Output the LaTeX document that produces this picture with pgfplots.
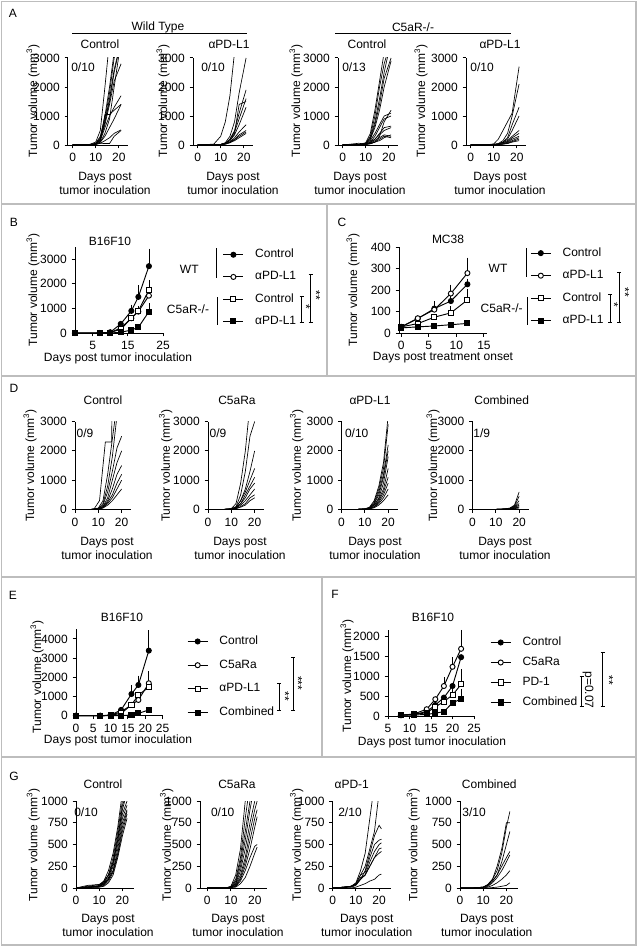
\documentclass[border=0pt]{standalone}
\usepackage{fontspec}
\setmainfont{Liberation Sans}
\usepackage{pgfplots}
\usepackage{pgfplotstable}
\pgfplotsset{compat=1.18}
\newcommand\fsz{\fontsize{9}{10.5}\selectfont}
\newcommand\TV{Tumor volume (mm\textsuperscript{3})}
\definecolor{framec}{gray}{0.74}
\pgfplotscreateplotcyclelist{blk}{black,solid,mark=none\\}

\pgfplotsset{
 P/.style 2 args={at={({#1*0.75pt},{-#2*0.75pt})}},
 base/.style={scale only axis, anchor=south west, axis lines=left,
   axis line style={-,line width=0.75pt}, tick align=outside, major tick length=2.6pt,
   tick style={line width=0.75pt,black}, ticklabel style={font=\fsz},
   /pgf/number format/assume math mode=true, /pgf/number format/1000 sep={},
   scaled ticks=false, minor tick num=0},
 spag/.style={base, ymin=0, cycle list name=blk, every axis plot post/.append style={black,solid,mark=none,line width=0.5pt}},
 spA/.style={spag, xmin=-2, xmax=24, ymax=3000, width=45pt, height=65.25pt, xtick={0,10,20}, ytick={0,1000,2000,3000}},
 spD/.style={spag, xmin=0, xmax=24, ymax=3000, width=42pt, height=66pt, xtick={0,10,20}, ytick={0,1000,2000,3000}},
 spG/.style={spag, xmin=0, xmax=25, ymax=1000, width=43.5pt, height=65.25pt, xtick={0,10,20}, ytick={0,250,500,750,1000}},
 mean/.style={base, clip=false, ymin=0,
   every axis plot/.append style={line width=0.7pt, black, mark size=1.9pt,
     error bars/y dir=plus, error bars/y explicit,
     error bars/error bar style={line width=0.6pt,black},
     error bars/error mark options={black,line width=0.6pt,mark size=1.9pt}},
   legend cell align=left,
   legend image code/.code={\draw[mark repeat=2,mark phase=2] plot coordinates {(0pt,0pt)(7.5pt,0pt)(15pt,0pt)}; \path (23.5pt,0pt);},
   legend style={draw=none, fill=none, anchor=north west, font=\fsz, inner sep=0pt,
     nodes={inner sep=0pt, text height=6.5pt, text depth=2pt}}},
 fc/.style={mark=*, mark options={fill=black}},
 oc/.style={mark=*, mark options={fill=white}},
 os/.style={mark=square*, mark options={fill=white}},
 fs/.style={mark=square*, mark options={fill=black}},
}
\newcommand\spagplot[2]{\pgfplotsinvokeforeach{#2}{\addplot table[x=colnames,y=##1]{#1};}}

% ---------- spaghetti data (rows = individual mice) ----------
\pgfplotstableread[header=has colnames]{
d 0 7 10 12 14 16 18 21
a 0 10 100 500 2000 3600 3600 3600
b 0 10 60 300 1000 2000 3200 3600
c 0 10 50 250 900 1800 3000 3600
d 0 5 40 200 800 1600 2600 3600
e 0 5 40 200 700 1400 2200 2800
f 0 5 30 150 600 1000 1300 1700
g 0 5 30 150 1050 1050 1200 1400
h 0 5 20 100 300 600 900 1400
i 0 5 20 60 150 250 400 520
j 0 5 20 60 50 50 300 500
k 0 5 30 100 400 900 2000 3600
l 0 5 30 200 800 1500 2500 3600
}\rAa
\pgfplotstableread[header=has colnames]{
d 0 7 10 12 14 16 18 21
a 0 30 300 800 1700 3200 3600 3600
b 0 5 20 80 300 800 1800 3000
c 0 5 20 60 200 500 1100 1900
d 0 5 20 60 200 450 900 1600
e 0 5 20 50 150 400 1400 1500
f 0 5 20 50 150 350 700 1300
g 0 5 20 40 100 250 450 700
h 0 5 15 40 100 200 350 500
i 0 5 15 30 80 180 300 450
j 0 5 10 30 80 150 250 400
}\rAb
\pgfplotstableread[header=has colnames]{
d 0 7 10 12 14 16 18 21
a 0 10 80 400 1200 2200 3200 3600
b 0 10 50 300 1000 2000 2800 3600
c 0 10 50 250 800 1600 2500 3600
d 0 10 40 200 700 1400 2300 3000
e 0 10 40 200 600 1200 2000 2900
f 0 10 30 150 400 700 1000 1100
g 0 10 30 100 300 600 900 1000
h 0 10 30 100 200 400 600 650
i 0 10 20 80 200 350 500 600
j 0 10 20 60 150 250 350 300
k 0 60 30 50 100 200 300 250
l 0 10 20 50 100 150 250 350
m 0 10 20 40 100 300 800 1200
}\rAc
\pgfplotstableread[header=has colnames]{
d 0 7 10 12 14 16 18 21
a 0 5 40 200 500 800 1100 2700
b 0 5 20 50 150 400 1000 2100
c 0 5 20 40 100 250 700 1300
d 0 5 20 40 100 200 500 1000
e 0 5 15 30 80 150 300 500
f 0 5 15 30 80 120 250 400
g 0 5 10 20 50 100 200 300
h 0 5 10 20 40 80 150 250
i 0 5 10 20 30 60 120 200
j 0 5 10 15 30 50 100 150
}\rAd
\pgfplotstableread[header=has colnames]{
d 0 7 10 12 14 16 18 20
b 0 5 50 300 1200 2400 3600 3600
c 0 5 30 200 800 1800 3200 3600
d 0 5 30 150 600 1300 2100 2500
e 0 5 20 100 400 1000 1600 2000
f 0 5 20 100 300 700 1200 1500
g 0 5 20 80 250 500 900 1200
h 0 5 10 60 200 400 700 1000
i 0 5 10 50 150 300 500 700
}\rDa
\pgfplotstableread[header=has colnames]{
d 0 7 10 12 14 16 18 20
a 0 5 30 200 900 2000 3600 3600
b 0 5 20 100 500 1300 2500 3000
c 0 5 20 80 300 700 1300 2000
d 0 5 20 80 300 600 1000 1400
e 0 5 10 60 200 500 800 1100
f 0 5 10 50 200 400 700 900
g 0 5 10 40 150 300 500 700
h 0 5 10 30 100 200 400 500
i 0 5 10 30 80 150 300 400
}\rDb
\pgfplotstableread[header=has colnames]{
d 0 7 10 12 14 16 18 20
a 0 5 20 80 300 800 1600 3200
b 0 5 20 60 250 700 1400 2900
c 0 5 20 60 200 600 1200 2200
d 0 5 15 50 200 500 1100 2000
e 0 5 15 50 150 400 900 1800
f 0 5 15 40 150 350 700 1400
g 0 5 10 40 100 300 600 1100
h 0 5 10 30 100 250 500 900
i 0 5 10 30 80 200 400 700
j 0 5 10 20 60 150 300 500
}\rDc
\pgfplotstableread[header=has colnames]{
d 0 7 10 12 14 16 18 20
a 0 0 5 10 20 50 150 600
b 0 0 5 10 20 40 120 450
c 0 0 5 10 20 40 100 300
d 0 0 5 10 20 30 80 200
e 0 0 5 10 15 30 60 150
f 0 0 5 10 15 20 50 100
g 0 0 5 5 10 20 40 80
h 0 0 0 5 10 15 30 50
i 0 0 0 0 0 0 0 0
}\rDd
\pgfplotstableread[header=has colnames]{
d 0 5 10 12 14 16 18 20 22
a 0 10 20 80 200 400 700 1100 1200
b 0 10 20 60 150 350 650 1000 1200
c 0 10 30 60 150 300 600 900 1100
d 0 10 20 50 120 280 550 850 1000
e 0 10 20 40 100 250 500 800 950
f 0 10 20 40 100 200 450 750 900
g 0 20 40 60 100 200 400 700 880
h 0 5 10 30 80 180 380 650 850
i 0 5 10 20 60 150 350 600 800
j 0 30 40 80 150 300 550 950 1100
}\rGa
\pgfplotstableread[header=has colnames]{
d 0 8 10 12 14 16 18 20 21
a 0 0 20 150 450 1000 1300 1500 1500
b 0 0 20 100 350 800 1200 1500 1500
c 0 0 10 80 300 650 1000 1300 1400
d 0 0 10 60 250 550 900 1200 1300
e 0 0 10 50 200 450 750 1000 1100
f 0 0 10 40 150 350 650 900 1000
g 0 0 10 30 120 300 550 800 900
h 0 0 5 20 100 250 450 700 820
i 0 0 5 20 80 200 350 480 500
j 0 0 5 10 50 120 250 400 470
}\rGb
\pgfplotstableread[header=has colnames]{
d 0 5 8 10 12 14 16 18 20 21
a 0 10 20 60 200 400 800 1200 1200 1200
b 0 10 20 50 150 250 450 650 1100 1200
c 0 10 20 40 100 200 400 600 720 680
d 0 10 20 50 150 180 350 500 550 560
e 0 10 20 40 120 150 300 420 500 520
f 0 10 20 40 100 150 250 350 450 460
g 0 5 10 30 100 150 250 350 400 420
h 0 0 0 10 30 50 80 100 150 160
i 0 0 0 0 0 0 0 0 0 0
}\rGc
\pgfplotstableread[header=has colnames]{
d 0 5 10 12 14 16 18 20 21.5
a 0 0 10 40 100 200 400 700 880
b 0 0 10 40 100 250 450 750 750
c 0 0 10 30 80 150 300 500 650
d 0 0 10 30 80 150 250 350 420
e 0 0 5 20 60 120 200 300 380
f 0 0 0 10 30 60 100 150 200
g 0 0 0 0 5 10 20 30 60
h 0 0 0 0 0 0 0 0 0
}\rGd
\pgfplotstabletranspose[colnames from=d]{\tAa}{\rAa}
\pgfplotstabletranspose[colnames from=d]{\tAb}{\rAb}
\pgfplotstabletranspose[colnames from=d]{\tAc}{\rAc}
\pgfplotstabletranspose[colnames from=d]{\tAd}{\rAd}
\pgfplotstabletranspose[colnames from=d]{\tDa}{\rDa}
\pgfplotstabletranspose[colnames from=d]{\tDb}{\rDb}
\pgfplotstabletranspose[colnames from=d]{\tDc}{\rDc}
\pgfplotstabletranspose[colnames from=d]{\tDd}{\rDd}
\pgfplotstabletranspose[colnames from=d]{\tGa}{\rGa}
\pgfplotstabletranspose[colnames from=d]{\tGb}{\rGb}
\pgfplotstabletranspose[colnames from=d]{\tGc}{\rGc}
\pgfplotstabletranspose[colnames from=d]{\tGd}{\rGd}

\newcommand\brk[3]{\draw[line width=0.6pt] (#1,#2)--(#1,#3) (#1-2,#2)--(#1+2,#2) (#1-2,#3)--(#1+2,#3);}

\begin{document}
\begin{tikzpicture}[x=0.75pt,y=-0.75pt,font=\fsz]
\path (0,0) rectangle (640,949);
% frame
\begin{scope}[draw=framec,line width=1pt]
\draw (1.5,1.5) rectangle (636,945);
\draw (1.5,204)--(636,204) (327,204)--(327,376) (1.5,376)--(636,376)
      (1.5,577)--(636,577) (322,577)--(322,757) (1.5,757)--(636,757);
\end{scope}

% ================= A =================
\node at (13,13) {A};
\node at (158,27) {Wild Type}; \draw[line width=0.75pt] (72,34)--(247,34);
\node at (413,27) {C5aR-/-}; \draw[line width=0.75pt] (335,34)--(511,34);
\foreach \x/\t in {100/Control,229/αPD-L1,367/Control,500/αPD-L1} \node at (\x,44) {\t};
\foreach \x/\t in {83/0\slash10,213/0\slash10,354/0\slash13,482/0\slash10} \node at (\x,67) {\t};
\foreach \x in {33,163,296,421} \node[rotate=90] at (\x,101) {\TV};
\foreach \x in {105,233,360,500} \node[align=center] at (\x,183) {Days post\\tumor inoculation};
\begin{axis}[spA, P={68}{145}] \spagplot{\tAa}{a,b,c,d,e,f,g,h,i,j,k,l} \end{axis}
\begin{axis}[spA, P={193}{145}] \spagplot{\tAb}{a,b,c,d,e,f,g,h,i,j} \end{axis}
\begin{axis}[spA, P={338}{145}] \spagplot{\tAc}{a,b,c,d,e,f,g,h,i,j,k,l,m} \end{axis}
\begin{axis}[spA, P={466}{145}] \spagplot{\tAd}{a,b,c,d,e,f,g,h,i,j} \end{axis}

% ================= B =================
\node at (14,222) {B};
\node at (110,241) {B16F10};
\node[rotate=90] at (33,290) {\TV};
\node at (118,358) {Days post tumor inoculation};
\begin{axis}[mean, P={75}{333}, width=66pt, height=64.5pt, xmin=0, xmax=25, ymax=3500,
  xtick={5,15,25}, ytick={0,1000,2000,3000},
  legend style={at={(1.678,0.979)}, row sep=8.15pt}]
\addplot[fc] coordinates {(0,0)+-(0,0) (7,0)+-(0,0) (10,30)+-(0,0) (13,370)+-(0,0) (16,900)+-(0,150) (18,1470)+-(0,370) (21,2720)+-(0,610)};
\addlegendentry{Control}
\addplot[oc] coordinates {(0,0)+-(0,0) (7,0)+-(0,0) (10,20)+-(0,0) (13,200)+-(0,0) (16,600)+-(0,0) (18,870)+-(0,0) (21,1520)+-(0,280)};
\addlegendentry{αPD-L1}
\addplot[os] coordinates {(0,0)+-(0,0) (7,0)+-(0,0) (10,20)+-(0,0) (13,150)+-(0,0) (16,600)+-(0,0) (18,900)+-(0,100) (21,1750)+-(0,310)};
\addlegendentry{Control}
\addplot[fs] coordinates {(0,0)+-(0,0) (7,0)+-(0,0) (10,0)+-(0,0) (13,30)+-(0,0) (16,120)+-(0,0) (18,230)+-(0,0) (21,870)+-(0,230)};
\addlegendentry{αPD-L1}
\end{axis}
\node at (189.3,269) {WT}; \draw[line width=0.75pt] (216,248)--(216,278);
\node at (188,309) {C5aR-/-}; \draw[line width=0.75pt] (217,297)--(217,325);
\brk{301.7}{296}{322} \node[rotate=-90] at (306,307) {*};
\brk{310.7}{274}{322} \node[rotate=-90] at (316,295) {**};

% ================= C =================
\node at (342,222) {C};
\node at (448,239) {MC38};
\node[rotate=90] at (353,290) {\TV};
\node at (443,358) {Days post treatment onset};
\begin{axis}[mean, P={399}{333.3}, width=65.8pt, height=64.5pt, xmin=-0.4, xmax=15.5, ymax=400,
  xtick={0,5,10,15}, ytick={0,100,200,300,400},
  legend style={at={(1.494,1.001)}, row sep=8.4pt}]
\addplot[fc] coordinates {(0,30)+-(0,0) (3,68)+-(0,0) (6,115)+-(0,23) (9,150)+-(0,10) (12,228)+-(0,15)};
\addlegendentry{Control}
\addplot[oc] coordinates {(0,30)+-(0,0) (3,70)+-(0,0) (6,110)+-(0,0) (9,185)+-(0,30) (12,280)+-(0,60)};
\addlegendentry{αPD-L1}
\addplot[os] coordinates {(0,30)+-(0,0) (3,45)+-(0,0) (6,75)+-(0,0) (9,95)+-(0,20) (12,155)+-(0,37)};
\addlegendentry{Control}
\addplot[fs] coordinates {(0,25)+-(0,0) (3,30)+-(0,0) (6,34)+-(0,0) (9,40)+-(0,0) (12,46)+-(0,0)};
\addlegendentry{αPD-L1}
\end{axis}
\node at (498,268) {WT}; \draw[line width=0.75pt] (526.7,248)--(526.7,277);
\node at (501.7,308) {C5aR-/-}; \draw[line width=0.75pt] (527,297)--(527,325);
\brk{610}{294}{322} \node[rotate=-90] at (614,305) {*};
\brk{619.3}{272}{322} \node[rotate=-90] at (625,292) {**};

% ================= D =================
\node at (14,388) {D};
\foreach \x/\t in {103/Control,237/C5aRa,370/αPD-L1,501.7/Combined} \node at (\x,400.7) {\t};
\foreach \x/\t in {85/0\slash9,218/0\slash9,356.7/0\slash10,481.7/1\slash9} \node at (\x,433) {\t};
\foreach \x in {30,165.7,296.7,433} \node[rotate=90] at (\x,465.6) {\TV};
\foreach \x in {107,240,375,505} \node[align=center] at (\x,548.3) {Days post\\tumor inoculation};
\begin{axis}[spD, P={75}{509.5}] \spagplot{\tDa}{b,c,d,e,f,g,h,i}
 \addplot coordinates {(0,0)(8,0)(10.5,300)(13,2300)(15.7,2300)(15.9,3600)}; \end{axis}
\begin{axis}[spD, P={208}{509.5}] \spagplot{\tDb}{a,b,c,d,e,f,g,h,i} \end{axis}
\begin{axis}[spD, P={341.5}{509.5}] \spagplot{\tDc}{a,b,c,d,e,f,g,h,i,j} \end{axis}
\begin{axis}[spD, P={472.5}{509.5}] \spagplot{\tDd}{a,b,c,d,e,f,g,h,i} \end{axis}

% ================= E =================
\node at (13,595) {E};
\node at (122,617) {B16F10};
\node[rotate=90] at (37,677) {\TV};
\node at (118,740) {Days post tumor inoculation};
\begin{axis}[mean, P={76}{715.7}, width=65pt, height=64.8pt, xmin=0, xmax=25, ymax=4500,
  xtick={0,5,10,15,20,25}, ytick={0,1000,2000,3000,4000},
  legend style={at={(1.28,0.928)}, row sep=9.3pt}]
\addplot[fc] coordinates {(0,0)+-(0,0) (7,0)+-(0,0) (10,30)+-(0,0) (13,300)+-(0,0) (16,1130)+-(0,350) (18,1600)+-(0,350) (21,3390)+-(0,940)};
\addlegendentry{Control}
\addplot[oc] coordinates {(0,0)+-(0,0) (7,0)+-(0,0) (10,20)+-(0,0) (13,210)+-(0,0) (16,560)+-(0,0) (18,820)+-(0,0) (21,1690)+-(0,510)};
\addlegendentry{C5aRa}
\addplot[os] coordinates {(0,0)+-(0,0) (7,0)+-(0,0) (10,20)+-(0,0) (13,120)+-(0,0) (16,560)+-(0,0) (18,1080)+-(0,0) (21,1480)+-(0,250)};
\addlegendentry{αPD-L1}
\addplot[fs] coordinates {(0,0)+-(0,0) (7,0)+-(0,0) (10,0)+-(0,0) (13,0)+-(0,0) (16,40)+-(0,0) (18,120)+-(0,0) (21,300)+-(0,0)};
\addlegendentry{Combined}
\end{axis}
\brk{279}{683}{710} \node[rotate=-90] at (285,696) {**};
\brk{293}{657}{710} \node[rotate=-90] at (298,683) {***};

% ================= F =================
\node at (335,594) {F};
\node at (433,617) {B16F10};
\node[rotate=90] at (347,676) {\TV};
\node at (432,742) {Days post tumor inoculation};
\begin{axis}[mean, P={388}{716}, width=64.5pt, height=64.5pt, xmin=5, xmax=25, ymax=2150,
  xtick={5,10,15,20,25}, ytick={0,500,1000,1500,2000},
  legend style={at={(1.186,0.924)}, row sep=6.5pt}]
\addplot[fc] coordinates {(8,20)+-(0,0) (11,40)+-(0,0) (14,110)+-(0,0) (16,275)+-(0,0) (18,460)+-(0,0) (20,750)+-(0,0) (22,1470)+-(0,0)};
\addlegendentry{Control}
\addplot[oc] coordinates {(8,20)+-(0,0) (11,50)+-(0,0) (14,170)+-(0,0) (16,420)+-(0,0) (18,750)+-(0,150) (20,1230)+-(0,170) (22,1680)+-(0,410)};
\addlegendentry{C5aRa}
\addplot[os] coordinates {(8,20)+-(0,0) (11,40)+-(0,0) (14,80)+-(0,0) (16,230)+-(0,0) (18,360)+-(0,0) (20,525)+-(0,80) (22,790)+-(0,320)};
\addlegendentry{PD-1}
\addplot[fs] coordinates {(8,20)+-(0,0) (11,25)+-(0,0) (14,40)+-(0,0) (16,70)+-(0,0) (18,110)+-(0,0) (20,330)+-(0,0) (22,425)+-(0,185)};
\addlegendentry{Combined}
\end{axis}
\brk{581.7}{676.7}{706.7} \node[rotate=-90] at (588,690) {p=0.07};
\brk{602.7}{652.7}{706.7} \node[rotate=-90] at (609,680) {**};

% ================= G =================
\node at (14,776.7) {G};
\foreach \x/\t in {103/Control,237/C5aRa,351.7/αPD-1,489.3/Combined} \node at (\x,784) {\t};
\foreach \x/\t in {86/0\slash10,222.7/0\slash10,350/2\slash10,474/3\slash10} \node at (\x,812) {\t};
\foreach \x in {33.3,166.7,296.7,413.3} \node[rotate=90] at (\x,845) {\TV};
\foreach \x in {108,238,366.7,486.7} \node[align=center] at (\x,925) {Days post\\tumor inoculation};
\begin{axis}[spG, P={76}{888}] \spagplot{\tGa}{a,b,c,d,e,f,g,h,i,j} \end{axis}
\begin{axis}[spG, P={200}{888}, xmin=-3, width=50pt] \spagplot{\tGb}{a,b,c,d,e,f,g,h,i,j} \end{axis}
\begin{axis}[spG, P={332.7}{888}] \spagplot{\tGc}{a,b,c,d,e,f,g,h,i} \end{axis}
\begin{axis}[spG, P={460}{888}] \spagplot{\tGd}{a,b,c,d,e,f,g,h} \end{axis}
\end{tikzpicture}
\end{document}
